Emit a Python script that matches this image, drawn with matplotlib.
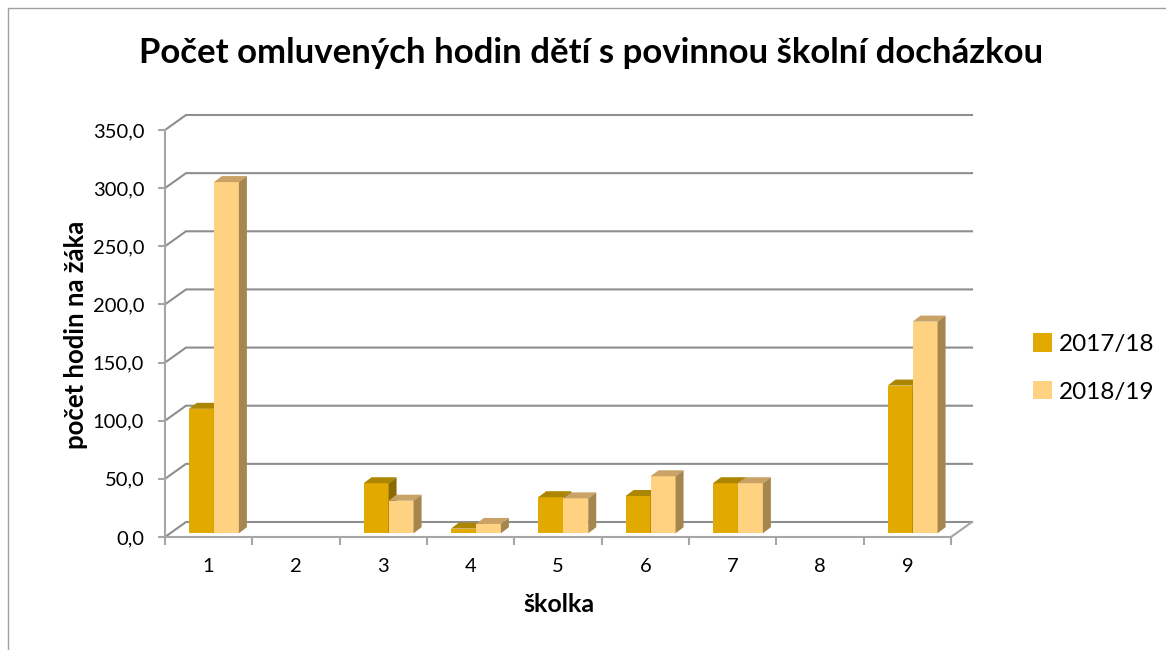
import matplotlib
matplotlib.use("Agg")
import matplotlib.pyplot as plt
import matplotlib.transforms as mtransforms
from matplotlib.patches import Polygon
from matplotlib.lines import Line2D
import numpy as np

# data (hours per pupil)
skolky = ['1', '2', '3', '4', '5', '6', '7', '8', '9']
rok_2017_18 = [107, np.nan, 43, 4, 31, 32, 43, np.nan, 127]
rok_2018_19 = [302, np.nan, 28, 8, 30, 49, 43, np.nan, 182]
serie = ['2017/18', '2018/19']
y_ticks = [0, 50, 100, 150, 200, 250, 300, 350]

# colours: front, top, side
barvy = [('#E2AA00', '#AC8600', '#8C6C00'),
         ('#FFD281', '#C9A266', '#A6864F')]
grid_col = '#8E8E8E'

plt.rcParams['font.family'] = ['Lato', 'DejaVu Sans']

W, H = 1166, 650
fig = plt.figure(figsize=(W / 100, H / 100), dpi=100)

# axes = front plane of the 3D box (in pixels of the reference picture)
x0, x1, y0, y1 = 165, 951, 537, 130
ax = fig.add_axes([x0 / W, (H - y0) / H, (x1 - x0) / W, (y0 - y1) / H])
ax.set_xlim(0.5, 9.5)
ax.set_ylim(0, 350)
ax.patch.set_visible(False)

# depth of the box in pixels
DX, DY = 21, 15
# bar depth in pixels and where the bar front sits
BDX, BDY = 8, 6
FRONT = 0.25

def px(x, y, d=0.0):
    p = ax.transData.transform((x, y))
    return (p[0] + d * DX, p[1] + d * DY)

ident = mtransforms.IdentityTransform()

# back wall gridlines + the diagonal on the left wall
for v in y_ticks:
    a = px(0.5, v, 0)
    b = px(0.5, v, 1)
    c = px(9.5, v, 1)
    ax.add_line(Line2D([a[0], b[0], c[0]], [a[1], b[1], c[1]], transform=ident,
                       color=grid_col, lw=1.5, clip_on=False, zorder=1,
                       solid_joinstyle='miter'))
# right edge of the floor
a = px(9.5, 0, 0)
b = px(9.5, 0, 1)
ax.add_line(Line2D([a[0], b[0]], [a[1], b[1]], transform=ident,
                   color='#A6A6A6', lw=1.5, clip_on=False, zorder=1))

# bars
w = 0.286
pos = np.arange(1, len(skolky) + 1)
posun = mtransforms.ScaledTranslation(FRONT * DX / 100, FRONT * DY / 100, fig.dpi_scale_trans)
handles = []
for k, hodnoty in enumerate([rok_2017_18, rok_2018_19]):
    front, top, side = barvy[k]
    xs = pos - w / 2 + k * w
    vals = np.nan_to_num(np.array(hodnoty, dtype=float))
    bars = ax.bar(xs, vals, width=w, color=front, edgecolor='none', label=serie[k],
                  zorder=3 + k * 0.1)
    handles.append(bars)
    for rect, v in zip(bars, hodnoty):
        rect.set_transform(ax.transData + posun)
        rect.set_clip_on(False)
        if np.isnan(v):
            rect.set_visible(False)
            continue
        xl, xr = rect.get_x(), rect.get_x() + rect.get_width()
        # front corners in display px
        bl = np.array(px(xl, 0, FRONT)); br = np.array(px(xr, 0, FRONT))
        tl = np.array(px(xl, v, FRONT)); tr = np.array(px(xr, v, FRONT))
        o = np.array([BDX, BDY])
        ax.add_patch(Polygon([tl, tr, tr + o, tl + o], closed=True, transform=ident,
                             facecolor=top, edgecolor='none', clip_on=False,
                             zorder=3 + k * 0.1))
        ax.add_patch(Polygon([br, tr, tr + o, br + o], closed=True, transform=ident,
                             facecolor=side, edgecolor='none', clip_on=False,
                             zorder=3 + k * 0.1))

# front axis lines
for s in ['top', 'right']:
    ax.spines[s].set_visible(False)
for s in ['left', 'bottom']:
    ax.spines[s].set_color('#A6A6A6')
    ax.spines[s].set_linewidth(1.5)
    ax.spines[s].set_zorder(5)

ax.set_yticks(y_ticks)
ax.set_yticklabels([f'{v:.1f}'.replace('.', ',') for v in y_ticks], fontsize=14.5)
ax.tick_params(axis='y', length=5, width=1.5, color='#A6A6A6', pad=10)
ax.set_xticks(pos)
ax.set_xticklabels(skolky, fontsize=14.5)
ax.set_xticks(np.arange(0.5, 10, 1), minor=True)
ax.tick_params(axis='x', which='major', length=0, pad=15)
ax.tick_params(axis='x', which='minor', length=6, width=1.5, color='#A6A6A6')

fig.text(559 / W, 1 - 604 / H, 'školka', fontsize=18, fontweight='bold',
         ha='center', va='center')
fig.text(76 / W, 1 - 335 / H, 'počet hodin na žáka', fontsize=18.5, fontweight='bold',
         ha='center', va='center', rotation=90)
fig.text(591 / W, 1 - 53 / H, 'Počet omluvených hodin dětí s povinnou školní docházkou',
         fontsize=25, fontweight='bold', ha='center', va='center')

fig.legend(handles=handles, labels=serie, loc='center left',
           bbox_to_anchor=(1033 / W, 1 - 368 / H), frameon=False, fontsize=17.5,
           handlelength=0.8, handleheight=0.8, handletextpad=0.25, labelspacing=1.05,
           borderaxespad=0, borderpad=0)

# chart border (left and top visible)
fig.add_artist(Line2D([8 / W, 8 / W, 1.0], [0.0, 1 - 8 / H, 1 - 8 / H],
                      transform=fig.transFigure, color='#A0A0A0', lw=1.0))

fig.savefig('out.png', dpi=100)
